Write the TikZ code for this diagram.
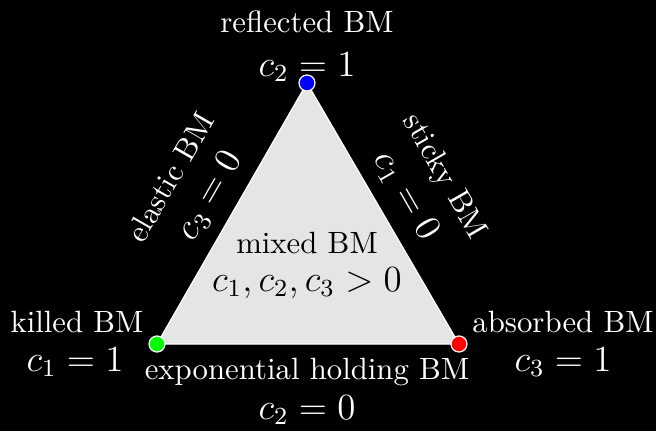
\documentclass[tikz,border=0pt]{standalone}
\begin{document}
\begin{tikzpicture}[x=0.325pt,y=-0.325pt,
  lbl/.style={text=white,inner sep=0pt},
  mth/.style={text=white,inner sep=0pt,font=\large},
  dot/.style={circle,draw=white,line width=0.4pt,minimum size=5.2pt,inner sep=0pt}]
\fill[black] (0,0) rectangle (656,431);
\useasboundingbox (0,0) rectangle (656,431);
\coordinate (T) at (307,83);
\coordinate (L) at (157,344);
\coordinate (R) at (459,344);
\filldraw[fill=black!10,draw=white,line width=0.4pt] (T) -- (L) -- (R) -- cycle;
\node[dot,fill=blue] (dt) at (T) {};
\node[dot,fill=green] (dl) at (L) {};
\node[dot,fill=red] (dr) at (R) {};
\node[lbl] (refl) at (307,22) {reflected BM};
\node[mth] (c2a) at (307,67) {$c_2=1$};
\node[lbl] (kill) at (77,322) {killed BM};
\node[mth] (c1a) at (75,362) {$c_1=1$};
\node[lbl] (abs) at (563,322) {absorbed BM};
\node[mth] (c3a) at (563,362) {$c_3=1$};
\node[lbl] (exph) at (307,372) {exponential holding BM};
\node[mth] (c2b) at (307,410) {$c_2=0$};
\node[lbl,text=black] (mix) at (307,243) {mixed BM};
\node[mth,text=black] (mixc) at (307,283) {$c_1,c_2,c_3>0$};
\node[lbl,rotate=60] (ela) at (170,177) {elastic BM};
\node[mth,rotate=60] (c3b) at (210,196) {$c_3=0$};
\node[lbl,rotate=-60] (sti) at (444,177) {sticky BM};
\node[mth,rotate=-60] (c1b) at (406,196) {$c_1=0$};
\end{tikzpicture}
\end{document}
